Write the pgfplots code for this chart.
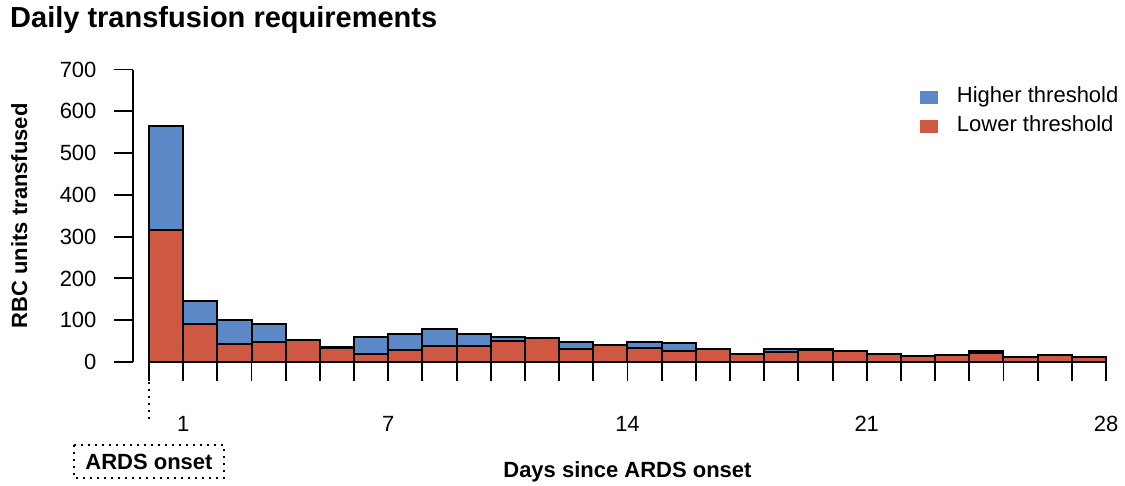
\documentclass[border=0pt]{standalone}
\usepackage{fontspec}
\setmainfont{Liberation Sans}
\usepackage{pgfplots}
\usepackage{pgfplotstable}
\pgfplotsset{compat=1.18}
\definecolor{hiblue}{RGB}{91,136,198}
\definecolor{lored}{RGB}{207,88,66}

\pgfplotstableread{
x    hi   lo
0.5  564  315
1.5  145  90
2.5  100  43
3.5  91   49
4.5  51   52
5.5  37   33
6.5  60   20
7.5  68   28
8.5  78   38
9.5  66   38
10.5 61   51
11.5 57   58
12.5 48   30
13.5 39   40
14.5 47   34
15.5 45   26
16.5 31   32
17.5 19   20
18.5 31   25
19.5 30   28
20.5 25   26
21.5 18   19
22.5 13   14
23.5 15   16
24.5 27   22
25.5 12   13
26.5 15   16
27.5 11   12
}\datatab

\begin{document}
\begin{tikzpicture}[x=1pt,y=1pt]
\useasboundingbox (-133,-123) rectangle (992,362);
\begin{axis}[
  at={(0,0)}, anchor=south west,
  scale only axis, width=973pt, height=292.5pt,
  xmin=-0.468, xmax=28, ymin=0, ymax=700,
  clip=false,
  axis y line=left, axis x line=bottom,
  axis line style={-, line width=2pt, black},
  x axis line style={draw=none},
  ytick={0,100,...,700},
  xtick={1,7,14,21,28},
  minor xtick={0,...,28},
  tick align=outside,
  major tick length=19pt, minor tick length=19pt,
  tick style={black, line width=1.9pt},
  /pgf/number format/assume math mode=true,
  tick label style={font=\fontsize{22}{26}\selectfont},
  yticklabel style={anchor=east, xshift=-14pt},
  xticklabel style={anchor=north, yshift=-32pt},
  title={Daily transfusion requirements},
  title style={at={(axis description cs:-0.1264,1.1248)}, anchor=base west, inner sep=0pt, font=\fontsize{29}{33}\selectfont\bfseries},
  xlabel={Days since ARDS onset},
  xlabel style={at={(axis description cs:0.5082,-0.3932)}, anchor=base, inner sep=0pt, font=\fontsize{22}{26}\selectfont\bfseries},
  ylabel={RBC units transfused},
  ylabel style={at={(axis description cs:-0.117,0.5)}, anchor=center, inner sep=0pt, font=\fontsize{22}{26}\selectfont\bfseries},
  legend style={draw=none, fill=none, at={(axis description cs:0.8088,0.9555)}, anchor=north west,
    inner sep=0pt, outer sep=0pt, row sep=0pt, font=\fontsize{22}{26}\selectfont,
    nodes={inner sep=4pt, text height=16pt, text depth=5pt}, cells={anchor=west}},
  legend image code/.code={\fill[#1, draw=none] (0pt,-6.5pt) rectangle (18pt,6.5pt); \path[draw=none, fill=none] (0pt,0pt) -- (33pt,0pt);},
]
\addplot[ybar, bar width=1, bar shift=0pt, fill=hiblue, draw=black, line width=2pt] table[x=x, y=hi] {\datatab};
\addlegendentry{Higher threshold}
\addplot[ybar, bar width=1, bar shift=0pt, fill=lored, draw=black, line width=2pt] table[x=x, y=lo] {\datatab};
\addlegendentry{Lower threshold}
\draw[black, line width=1.8pt, dash pattern=on 2pt off 5pt] ([yshift=-20pt]axis cs:0,0) -- ([yshift=-58pt]axis cs:0,0);
\draw[black, line width=1.8pt, dash pattern=on 2pt off 5pt] ([xshift=-75pt,yshift=-83pt]axis cs:0,0) rectangle ([xshift=75pt,yshift=-116pt]axis cs:0,0);
\node[font=\fontsize{22}{26}\selectfont\bfseries, inner sep=0pt, anchor=base] at ([yshift=-107pt]axis cs:0,0) {ARDS onset};
\end{axis}
\end{tikzpicture}
\end{document}
